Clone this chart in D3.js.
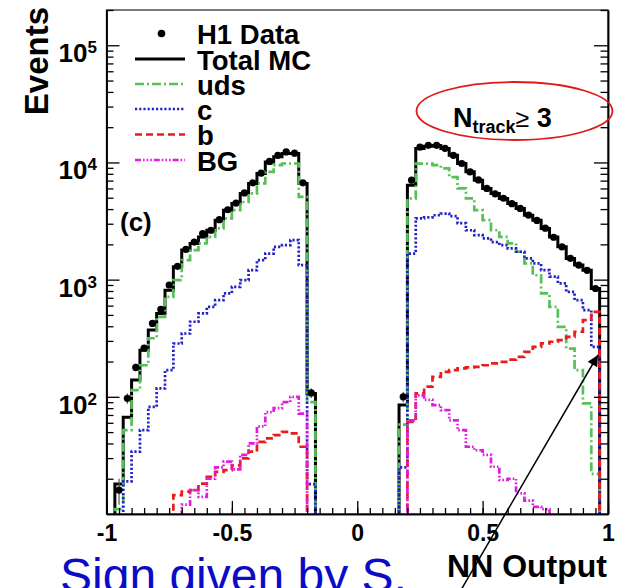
<!DOCTYPE html>
<html>
<head>
<meta charset="utf-8">
<script src="https://cdn.jsdelivr.net/npm/d3@7"></script>
<style>
  body { margin: 0; background: #fff; }
  svg { display: block; font-family: "Liberation Sans", Arial, Helvetica, sans-serif; }
</style>
</head>
<body>
<div id="chart"></div>
<script>
// NN output distribution (N_track >= 3), log y scale, 60 bins in [-1, 1]
var binWidth = 1 / 30;
var leftStart = -29 / 30;   // first filled bin of the left group
var rightStart = 5 / 30;    // first filled bin of the right group

// 24 bins per group
var dataL  = [16, 97, 178, 260, 423, 557, 900, 1300, 1810, 2090, 2470, 2640, 3250, 3950, 4500, 5500, 6700, 8100, 10200, 11500, 12300, 12000, 6700, 108];
var dataR  = [100, 7060, 13500, 14000, 14000, 13200, 11500, 9800, 8300, 7100, 6000, 5400, 4950, 4450, 4050, 3550, 3200, 2750, 2300, 1900, 1520, 1330, 1200, 840];

var totalL = [18, 67, 139, 250, 371, 515, 813, 1286, 1786, 2037, 2317, 2644, 3218, 3917, 4467, 5445, 6622, 8054, 10100, 11200, 11900, 11900, 6600, 107];
var totalR = [85, 6400, 13150, 13770, 13950, 13150, 11530, 9790, 8320, 7060, 6000, 5430, 4930, 4470, 4050, 3545, 3218, 2735, 2317, 1906, 1517, 1331, 1205, 841];

var udsL = [11, 52, 114, 186, 316, 482, 712, 990, 1467, 1786, 2037, 2317, 2735, 3330, 3917, 4600, 5445, 6620, 8320, 9500, 9800, 9800, 5080, 90];
var udsR = [58, 4930, 9790, 9790, 9480, 8900, 7500, 6000, 4930, 3920, 3220, 2640, 2317, 2037, 1730, 1375, 1090, 763, 585, 395, 258, 169, 88, 22];

var cL = [8, 19, 34, 52, 82, 118, 169, 285, 347, 437, 515, 585, 668, 763, 868, 990, 1205, 1467, 1670, 1906, 1970, 2175, 1330, 18];
var cR = [25, 1670, 3330, 3400, 3545, 3660, 3480, 3030, 2640, 2400, 2250, 2090, 1970, 1850, 1730, 1517, 1375, 1205, 1060, 930, 785, 668, 550, 267];

var bL = [0, 0, 0, 0, 0, 0, 0, 14.5, 15.5, 16, 18.2, 20.8, 22.9, 23.7, 26, 29.8, 34, 41.3, 44.2, 47.1, 50.3, 48.7, 37.5, 3];
var bR = [2, 61, 107, 122, 148, 163, 169, 175, 178, 180, 186, 193, 199, 208, 219, 242, 267, 286, 295, 305, 325, 359, 452, 531];

var bgL = [0, 0, 0, 0, 0, 0, 0, 5, 12, 16, 14, 20, 25, 28, 24, 32, 40, 56, 74, 80, 90, 100, 72, 3];
var bgR = [3, 63, 103, 94, 85, 77, 63, 52, 37.5, 35, 32, 25.3, 19.5, 20, 15, 13, 11.5, 11, 9, 8, 6, 5, 4, 3];

var xTickLabels = [-1, -0.5, 0, 0.5, 1];
var yDecades = [1e2, 1e3, 1e4, 1e5];
var legendNames = ["H1 Data", "Total MC", "uds", "c", "b", "BG"];

var width = 619, height = 588;
var plot = {left: 106.5, right: 608, top: 10, bottom: 514};

var svg = d3.select("#chart").append("svg")
    .attr("width", width)
    .attr("height", height);

var x = d3.scaleLinear().domain([-1, 1]).range([plot.left, plot.right]);
var y = d3.scaleLog().domain([10, 2e5]).range([plot.bottom, plot.top]);

svg.append("clipPath").attr("id", "plotClip")
  .append("rect")
    .attr("x", plot.left).attr("y", plot.top)
    .attr("width", plot.right - plot.left)
    .attr("height", plot.bottom - plot.top);

// put the two groups into the full 60-bin range
function fullBins(left, right) {
  var vals = d3.range(60).map(function() { return 0; });
  var i0 = Math.round((leftStart + 1) / binWidth);
  var j0 = Math.round((rightStart + 1) / binWidth);
  left.forEach(function(v, i) { vals[i0 + i] = v; });
  right.forEach(function(v, i) { vals[j0 + i] = v; });
  return vals;
}

function stepPoints(vals) {
  var pts = [[-1, 0]];
  vals.forEach(function(v, i) {
    var lo = -1 + i * binWidth;
    pts.push([lo, v], [lo + binWidth, v]);
  });
  pts.push([1, 0]);
  return pts;
}

var histLine = d3.line()
  .x(function(d) { return x(d[0]); })
  .y(function(d) { return d[1] > 0 ? y(d[1]) : plot.bottom + 40; });

var series = [
  {name: "Total MC", vals: fullBins(totalL, totalR), color: "#000000", dash: null, w: 3},
  {name: "uds", vals: fullBins(udsL, udsR), color: "#58c058", dash: "9,3,2,3", w: 2.7},
  {name: "c", vals: fullBins(cL, cR), color: "#2222c8", dash: "2.2,2", w: 2.7},
  {name: "b", vals: fullBins(bL, bR), color: "#e81c1c", dash: "7,4", w: 2.7},
  {name: "BG", vals: fullBins(bgL, bgR), color: "#e01ce0", dash: "6,2,1.6,2,1.6,2,1.6,2", w: 2.7}
];

var plotArea = svg.append("g").attr("clip-path", "url(#plotClip)");

series.forEach(function(s) {
  plotArea.append("path")
    .datum(stepPoints(s.vals))
    .attr("fill", "none")
    .attr("stroke", s.color)
    .attr("stroke-width", s.w)
    .attr("stroke-dasharray", s.dash)
    .attr("d", histLine);
});

// H1 data points with sqrt(N) error bars
var dataBins = fullBins(dataL, dataR);
var pts = [];
dataBins.forEach(function(v, i) {
  if (v > 0) pts.push({c: -1 + (i + 0.5) * binWidth, v: v});
});

plotArea.selectAll(".err")
  .data(pts)
  .enter().append("line")
    .attr("x1", function(d) { return x(d.c); })
    .attr("x2", function(d) { return x(d.c); })
    .attr("y1", function(d) { return y(d.v + Math.sqrt(d.v)); })
    .attr("y2", function(d) { return y(Math.max(d.v - Math.sqrt(d.v), 1)); })
    .attr("stroke", "#555")
    .attr("stroke-width", 1.2);

plotArea.selectAll(".dot")
  .data(pts)
  .enter().append("circle")
    .attr("cx", function(d) { return x(d.c); })
    .attr("cy", function(d) { return y(d.v); })
    .attr("r", 3.6)
    .attr("fill", "black");

// frame
svg.append("rect")
  .attr("x", plot.left).attr("y", plot.top)
  .attr("width", plot.right - plot.left)
  .attr("height", plot.bottom - plot.top)
  .attr("fill", "none")
  .attr("stroke", "#333")
  .attr("stroke-width", 1.3);

// minor tick values (positions only)
var yMinor = [];
[10, 100, 1000, 10000, 100000].forEach(function(dec) {
  for (var k = 2; k <= 9; k++) if (dec * k <= 2e5) yMinor.push(dec * k);
});
var xMinor = d3.range(-20, 21).map(function(k) { return k * 0.05; });

function styleAxis(g) {
  g.select(".domain").attr("stroke", "#000").attr("stroke-width", 1.5);
  g.selectAll(".tick line").attr("stroke", "#000").attr("stroke-width", 1.3);
}

// left axis
svg.append("g")
  .attr("transform", "translate(" + plot.left + ",0)")
  .call(d3.axisLeft(y).tickValues(yMinor).tickSize(-7).tickSizeOuter(0).tickFormat(""))
  .call(styleAxis);
svg.append("g")
  .attr("transform", "translate(" + plot.left + ",0)")
  .call(d3.axisLeft(y).tickValues(yDecades).tickSize(-13).tickSizeOuter(0).tickFormat(""))
  .call(styleAxis);

// right axis
svg.append("g")
  .attr("transform", "translate(" + plot.right + ",0)")
  .call(d3.axisRight(y).tickValues(yMinor).tickSize(-7.5).tickSizeOuter(0).tickFormat(""))
  .call(styleAxis);
svg.append("g")
  .attr("transform", "translate(" + plot.right + ",0)")
  .call(d3.axisRight(y).tickValues(yDecades).tickSize(-14).tickSizeOuter(0).tickFormat(""))
  .call(styleAxis);

// bottom axis
svg.append("g")
  .attr("transform", "translate(0," + plot.bottom + ")")
  .call(d3.axisBottom(x).tickValues(xMinor).tickSize(-6).tickSizeOuter(0).tickFormat(""))
  .call(styleAxis);
var xAxis = svg.append("g")
  .attr("transform", "translate(0," + plot.bottom + ")")
  .call(d3.axisBottom(x).tickValues(xTickLabels).tickSize(-13).tickSizeOuter(0)
        .tickPadding(11).tickFormat(function(d) { return String(d); }))
  .call(styleAxis);
xAxis.selectAll(".tick text")
  .attr("font-family", "'Liberation Sans', Arial, sans-serif")
  .attr("font-size", 23)
  .attr("font-weight", "bold")
  .attr("fill", "#000");

// y tick labels as 10^n
yDecades.forEach(function(v) {
  var t = svg.append("text")
    .attr("x", 97)
    .attr("y", y(v) + 17)
    .attr("text-anchor", "end")
    .attr("font-weight", "bold")
    .attr("fill", "#000");
  t.append("tspan").attr("font-size", 26).text("10");
  t.append("tspan").attr("font-size", 17).attr("dy", -9).text(String(Math.round(Math.log10(v))));
});

// axis titles
svg.append("text")
  .attr("transform", "translate(48,7) rotate(-90)")
  .attr("text-anchor", "end")
  .attr("font-size", 33)
  .attr("font-weight", "bold")
  .text("Events");

svg.append("text")
  .attr("x", 607)
  .attr("y", 577)
  .attr("text-anchor", "end")
  .attr("font-size", 32)
  .attr("font-weight", "bold")
  .text("NN Output");

// legend
var legRowY = [33.5, 59, 84, 109, 134.5, 160];
var legX0 = 135, legX1 = 185, legTextX = 197;
legendNames.forEach(function(name, i) {
  var ly = legRowY[i];
  if (i === 0) {
    svg.append("circle").attr("cx", 161.5).attr("cy", ly).attr("r", 3.8).attr("fill", "black");
  } else {
    var s = series[i - 1];
    svg.append("line")
      .attr("x1", legX0).attr("x2", legX1)
      .attr("y1", ly).attr("y2", ly)
      .attr("stroke", s.color)
      .attr("stroke-width", s.w)
      .attr("stroke-dasharray", s.dash);
  }
  svg.append("text")
    .attr("x", legTextX)
    .attr("y", ly + 10.5)
    .attr("font-size", 27.5)
    .attr("font-weight", "bold")
    .text(name);
});

// panel label
svg.append("text")
  .attr("x", 120).attr("y", 231)
  .attr("font-size", 26)
  .attr("font-weight", "bold")
  .text("(c)");

// N_track >= 3 with red ellipse
var ntrack = svg.append("text")
  .attr("x", 453).attr("y", 127)
  .attr("font-weight", "bold")
  .attr("fill", "#000");
ntrack.append("tspan").attr("font-size", 27).text("N");
ntrack.append("tspan").attr("font-size", 18).attr("dy", 6).text("track");
ntrack.append("tspan").attr("font-size", 25).attr("font-weight", "normal").attr("dy", -6).text("\u2265");
ntrack.append("tspan").attr("font-size", 27).text(" 3");

svg.append("ellipse")
  .attr("cx", 514.5).attr("cy", 111)
  .attr("rx", 98).attr("ry", 29)
  .attr("fill", "none")
  .attr("stroke", "#e01818")
  .attr("stroke-width", 1.8);

// blue annotation text and arrow
svg.append("text")
  .attr("x", 60).attr("y", 592)
  .attr("font-size", 48)
  .attr("fill", "#0c0cc8")
  .text("Sign given by S,");

svg.append("defs").append("marker")
  .attr("id", "arrowHead")
  .attr("viewBox", "0 0 10 10")
  .attr("refX", 10).attr("refY", 5)
  .attr("markerWidth", 16).attr("markerHeight", 11)
  .attr("markerUnits", "userSpaceOnUse")
  .attr("orient", "auto")
  .append("path").attr("d", "M0,0 L10,5 L0,10 Z").attr("fill", "#000");

svg.append("line")
  .attr("x1", 461).attr("y1", 590)
  .attr("x2", 598).attr("y2", 355)
  .attr("stroke", "#000")
  .attr("stroke-width", 1.5)
  .attr("marker-end", "url(#arrowHead)");
</script>
</body>
</html>
